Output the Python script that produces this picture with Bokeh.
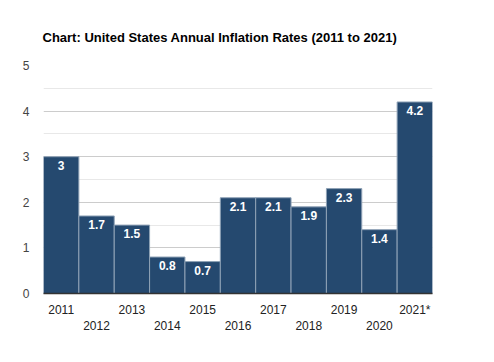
from bokeh.plotting import figure
from bokeh.models import (ColumnDataSource, Range1d, FixedTicker, LinearAxis, LabelSet)
from bokeh.core.properties import value
from bokeh.embed import file_html
from bokeh.resources import INLINE

years = ["2011", "2012", "2013", "2014", "2015", "2016", "2017", "2018", "2019", "2020", "2021*"]
rates = [3.0, 1.7, 1.5, 0.8, 0.7, 2.1, 2.1, 1.9, 2.3, 1.4, 4.2]
y_ticks = [0, 1, 2, 3, 4, 5]
title_text = "Chart: United States Annual Inflation Rates (2011 to 2021)"

FONT = "Liberation Sans"
xs = [i + 0.5 for i in range(len(years))]
labels = [f"{v:g}" for v in rates]
src = ColumnDataSource(dict(x=xs, top=rates, label=labels))

p = figure(width=478, height=346, output_backend="svg", toolbar_location=None,
           x_range=Range1d(0, len(years)), y_range=Range1d(0, 5),
           min_border_left=43, min_border_right=46, min_border_top=65, min_border_bottom=53,
           x_axis_location=None)
p.outline_line_color = None
p.background_fill_color = "white"
p.border_fill_color = "white"

p.title.text = title_text
p.title.text_font = FONT
p.title.text_font_size = "13px"
p.title.text_font_style = "bold"
p.title.text_color = "#000000"
p.title.align = "left"
p.title.offset = -1
p.title.standoff = 42

p.vbar(x="x", top="top", bottom=0, width=1, source=src,
       fill_color="#25496f", line_color="#8fa2b6", line_width=1)

p.add_layout(LabelSet(x="x", y="top", text="label", source=src, y_offset=-4,
                      text_align="center", text_baseline="top", text_color="white",
                      text_font=value(FONT), text_font_size=value("12px"),
                      text_font_style="bold"))

# y axis
ya = p.yaxis[0]
ya.ticker = FixedTicker(ticks=y_ticks, minor_ticks=[0.5, 1.5, 2.5, 3.5, 4.5])
ya.axis_line_color = None
ya.major_tick_line_color = None
ya.minor_tick_line_color = None
ya.major_label_text_font = FONT
ya.major_label_text_font_size = "12px"
ya.major_label_text_color = "#444444"
ya.major_label_standoff = 8

p.xgrid.grid_line_color = None
p.ygrid.grid_line_color = "#cccccc"
p.ygrid.minor_grid_line_color = "#e8e8e8"

odd = list(range(0, len(years), 2))
even = list(range(1, len(years), 2))

ax1 = LinearAxis(ticker=FixedTicker(ticks=[xs[i] for i in odd]),
                 major_label_overrides={xs[i]: years[i] for i in odd})
ax2 = LinearAxis(ticker=FixedTicker(ticks=[xs[i] for i in even]),
                 major_label_overrides={xs[i]: years[i] for i in even})
for ax in (ax1, ax2):
    ax.major_tick_line_color = None
    ax.minor_tick_line_color = None
    ax.major_label_text_font = FONT
    ax.major_label_text_font_size = "12px"
    ax.major_label_text_color = "#222222"
ax1.axis_line_color = "#333333"
ax1.axis_line_width = 1.5
ax1.major_label_standoff = 3
ax2.axis_line_color = None
ax2.major_label_standoff = -5
p.add_layout(ax1, "below")
p.add_layout(ax2, "below")

open("out.html", "w").write(file_html(p, INLINE))
